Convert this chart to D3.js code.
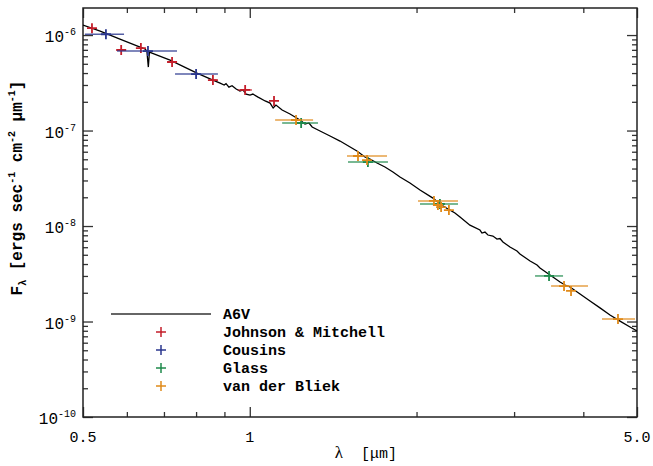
<!DOCTYPE html>
<html>
<head>
<meta charset="utf-8">
<script src="https://cdn.jsdelivr.net/npm/d3@7"></script>
<style>
  body { margin: 0; background: #fff; }
  svg { display: block; }
</style>
</head>
<body>
<div id="chart"></div>
<script>
// model spectrum A6V (wavelength in micron, flux in ergs/s/cm2/micron)
var specLambda = [0.500, 0.537, 0.583, 0.634, 0.647, 0.652, 0.656, 0.659, 0.666, 0.718,
  0.803, 0.858, 0.884, 0.899, 0.906, 0.917, 0.929, 0.945, 0.960, 0.972,
  0.985, 1.001, 1.013, 1.035, 1.066, 1.088, 1.102, 1.115, 1.144, 1.182,
  1.232, 1.258, 1.279, 1.296, 1.339, 1.396, 1.455, 1.561, 1.614, 1.648,
  1.697, 1.754, 1.813, 1.867, 1.946, 2.029, 2.141, 2.204, 2.279, 2.346,
  2.396, 2.497, 2.603, 2.625, 2.658, 2.691, 2.747, 2.794, 2.829, 2.864,
  2.949, 3.036, 3.074, 3.206, 3.300, 3.341, 3.483, 3.631, 3.707, 3.785,
  3.946, 4.113, 4.287, 4.469, 4.659, 4.857, 5.000];
var specFlux = [1.27e-6, 1.10e-6, 9.08e-7, 7.49e-7, 7.14e-7, 6.80e-7, 4.62e-7, 6.64e-7, 6.48e-7, 5.47e-7,
  4.00e-7, 3.38e-7, 3.14e-7, 3.00e-7, 3.10e-7, 2.85e-7, 2.95e-7, 2.72e-7, 2.59e-7, 2.66e-7,
  2.41e-7, 2.35e-7, 2.41e-7, 2.24e-7, 2.04e-7, 1.94e-7, 1.72e-7, 1.85e-7, 1.64e-7, 1.49e-7,
  1.29e-7, 1.17e-7, 1.20e-7, 1.09e-7, 9.88e-8, 8.76e-8, 7.76e-8, 6.10e-8, 5.28e-8, 5.03e-8,
  4.57e-8, 4.15e-8, 3.68e-8, 3.26e-8, 2.82e-8, 2.38e-8, 1.96e-8, 1.70e-8, 1.51e-8, 1.37e-8,
  1.24e-8, 1.02e-8, 9.08e-9, 8.45e-9, 8.65e-9, 8.05e-9, 7.86e-9, 7.31e-9, 7.40e-9, 6.80e-9,
  6.03e-9, 5.47e-9, 5.09e-9, 4.30e-9, 3.91e-9, 3.63e-9, 3.07e-9, 2.59e-9, 2.41e-9, 2.30e-9,
  1.94e-9, 1.64e-9, 1.39e-9, 1.17e-9, 1.01e-9, 8.76e-10, 7.95e-10];

// Johnson & Mitchell
var jmLambda = [0.519, 0.586, 0.636, 0.724, 0.858, 0.981, 1.106];
var jmFlux   = [1.18e-6, 6.97e-7, 7.31e-7, 5.22e-7, 3.38e-7, 2.66e-7, 2.04e-7];
var jmLo     = [0.519, 0.586, 0.636, 0.724, 0.845, 0.952, 1.106];
var jmHi     = [0.519, 0.586, 0.636, 0.724, 0.871, 1.009, 1.106];

// Cousins
var coLambda = [0.550, 0.655, 0.800];
var coFlux   = [1.02e-6, 6.80e-7, 3.90e-7];
var coLo     = [0.504, 0.576, 0.733];
var coHi     = [0.593, 0.739, 0.876];

// Glass
var glLambda = [1.238, 1.634, 2.204, 3.469];
var glFlux   = [1.20e-7, 4.68e-8, 1.70e-8, 3.00e-9];
var glLo     = [1.144, 1.504, 2.029, 3.273];
var glHi     = [1.328, 1.776, 2.376, 3.677];

// van der Bliek
var vbLambda = [1.212, 1.568, 1.628, 2.150, 2.186, 2.215, 2.288, 3.692, 3.801, 4.620];
var vbFlux   = [1.29e-7, 5.41e-8, 4.91e-8, 1.83e-8, 1.66e-8, 1.58e-8, 1.47e-8, 2.35e-9, 2.09e-9, 1.06e-9];
var vbLo     = [1.111, 1.498, 1.628, 2.012, 2.186, 2.215, 2.288, 3.498, 3.801, 4.323];
var vbHi     = [1.301, 1.769, 1.628, 2.376, 2.186, 2.215, 2.288, 4.079, 3.801, 4.959];

var xMajor = [0.5, 1, 5];
var xMajorLabels = ["0.5", "1", "5.0"];
var xMinor = [0.6, 0.7, 0.8, 0.9, 2, 3, 4];
var yDecades = [-10, -9, -8, -7, -6];
var legendNames = ["A6V", "Johnson & Mitchell", "Cousins", "Glass", "van der Bliek"];
var seriesColors = ["#c41e2a", "#2b378f", "#1f8a4c", "#e08a1a"];

var W = 653, H = 466;
var plotL = 83, plotR = 637, plotT = 8, plotB = 417;

var svg = d3.select("#chart").append("svg")
    .attr("width", W)
    .attr("height", H);

var x = d3.scaleLog().domain([0.5, 5.0]).range([plotL, plotR]);
var y = d3.scaleLog().domain([1e-10, 1.92e-6]).range([plotB, plotT]);

// y minor ticks: 2..9 in each decade
var yMinor = [];
yDecades.forEach(function(e) {
  for (var k = 2; k <= 9; k++) {
    var v = k * Math.pow(10, e);
    if (v < y.domain()[1]) yMinor.push(v);
  }
});
var yMajor = yDecades.map(function(e) { return Math.pow(10, e); });

function drawAxis(axisFn, scale, vals, size, tx, ty) {
  var g = svg.append("g")
    .attr("transform", "translate(" + tx + "," + ty + ")")
    .call(axisFn(scale).tickValues(vals).tickSize(size).tickFormat(""));
  g.select(".domain").remove();
  g.selectAll("line").attr("stroke", "#333").attr("stroke-width", 1.3);
}

// ticks pointing inward on all four sides
drawAxis(d3.axisBottom, x, xMajor, -10, 0, plotB);
drawAxis(d3.axisBottom, x, xMinor, -5, 0, plotB);
drawAxis(d3.axisTop, x, xMajor, -10, 0, plotT);
drawAxis(d3.axisTop, x, xMinor, -5, 0, plotT);
drawAxis(d3.axisLeft, y, yMajor, -10, plotL, 0);
drawAxis(d3.axisLeft, y, yMinor, -5, plotL, 0);
drawAxis(d3.axisRight, y, yMajor, -10, plotR, 0);
drawAxis(d3.axisRight, y, yMinor, -5, plotR, 0);

// frame
svg.append("rect")
  .attr("x", plotL).attr("y", plotT)
  .attr("width", plotR - plotL).attr("height", plotB - plotT)
  .attr("fill", "none")
  .attr("stroke", "#222")
  .attr("stroke-width", 1.5);

// x tick labels
svg.selectAll(".xlab")
  .data(xMajor)
  .enter().append("text")
    .attr("x", function(d) { return x(d); })
    .attr("y", plotB + 25)
    .attr("text-anchor", "middle")
    .style("font-family", "Liberation Mono, monospace")
    .style("font-size", "15px")
    .text(function(d, i) { return xMajorLabels[i]; });

// y tick labels 10^n
var ylab = svg.selectAll(".ylab")
  .data(yDecades)
  .enter().append("text")
    .attr("x", 76)
    .attr("y", function(d) { return y(Math.pow(10, d)) + 7; })
    .attr("text-anchor", "end")
    .style("font-family", "Liberation Mono, monospace")
    .style("font-size", "16px");
ylab.append("tspan").text("10");
ylab.append("tspan")
  .attr("dy", -7)
  .style("font-size", "10px")
  .text(function(d) { return d; });

// axis titles
var xt = svg.append("text")
  .attr("x", 366).attr("y", 458)
  .attr("text-anchor", "middle")
  .style("font-family", "Liberation Mono, monospace")
  .style("font-size", "15px");
xt.append("tspan").style("font-family", "Liberation Serif, serif").style("font-size", "17px").text("λ");
xt.append("tspan").attr("xml:space", "preserve").text("  [μm]");

var yt = svg.append("text")
  .attr("transform", "translate(22," + 188 + ") rotate(-90)")
  .attr("text-anchor", "middle")
  .style("font-family", "Liberation Mono, monospace")
  .style("font-weight", "bold")
  .style("font-size", "16px");
yt.append("tspan").text("F");
yt.append("tspan").attr("dy", 4).style("font-size", "10px").text("λ");
yt.append("tspan").attr("dy", -4).text(" [ergs sec");
yt.append("tspan").attr("dy", -7).style("font-size", "10px").text("-1");
yt.append("tspan").attr("dy", 7).text(" cm");
yt.append("tspan").attr("dy", -7).style("font-size", "10px").text("-2");
yt.append("tspan").attr("dy", 7).text(" μm");
yt.append("tspan").attr("dy", -7).style("font-size", "10px").text("-1");
yt.append("tspan").attr("dy", 7).text("]");

// clip plot area
svg.append("clipPath").attr("id", "plotclip")
  .append("rect")
    .attr("x", plotL).attr("y", plotT)
    .attr("width", plotR - plotL).attr("height", plotB - plotT);

// spectrum line
var spec = specLambda.map(function(l, i) { return {l: l, f: specFlux[i]}; });
var line = d3.line()
  .x(function(d) { return x(d.l); })
  .y(function(d) { return y(d.f); });
svg.append("path")
  .datum(spec)
  .attr("clip-path", "url(#plotclip)")
  .attr("d", line)
  .attr("fill", "none")
  .attr("stroke", "#000")
  .attr("stroke-width", 1.3);

// photometry series
var series = [
  {l: jmLambda, f: jmFlux, lo: jmLo, hi: jmHi},
  {l: coLambda, f: coFlux, lo: coLo, hi: coHi},
  {l: glLambda, f: glFlux, lo: glLo, hi: glHi},
  {l: vbLambda, f: vbFlux, lo: vbLo, hi: vbHi}
];

function plus(cx, cy, s) {
  return "M" + (cx - s) + "," + cy + "H" + (cx + s) + "M" + cx + "," + (cy - s) + "V" + (cy + s);
}

series.forEach(function(s, si) {
  var pts = s.l.map(function(l, i) { return {l: l, f: s.f[i], lo: s.lo[i], hi: s.hi[i]}; });
  var g = svg.append("g").attr("clip-path", "url(#plotclip)");
  // filter width bars
  g.selectAll("line.bar")
    .data(pts.filter(function(d) { return d.hi > d.lo; }))
    .enter().append("line")
      .attr("x1", function(d) { return x(d.lo); })
      .attr("x2", function(d) { return x(d.hi); })
      .attr("y1", function(d) { return y(d.f); })
      .attr("y2", function(d) { return y(d.f); })
      .attr("stroke", seriesColors[si])
      .attr("stroke-opacity", 0.8)
      .attr("stroke-width", 1.5);
  // plus markers
  g.selectAll("path.pt")
    .data(pts)
    .enter().append("path")
      .attr("d", function(d) { return plus(x(d.l), y(d.f), 5); })
      .attr("stroke", seriesColors[si])
      .attr("stroke-width", 1.8)
      .attr("fill", "none");
});

// legend
var legX = 111, legTextX = 223, legY0 = 314, legDy = 18;
svg.append("line")
  .attr("x1", legX).attr("x2", legX + 100)
  .attr("y1", legY0).attr("y2", legY0)
  .attr("stroke", "#333")
  .attr("stroke-width", 1.5);
legendNames.forEach(function(name, i) {
  var yy = legY0 + i * legDy;
  if (i > 0) {
    svg.append("path")
      .attr("d", plus(161, yy, 5))
      .attr("stroke", seriesColors[i - 1])
      .attr("stroke-width", 1.5)
      .attr("fill", "none");
  }
  svg.append("text")
    .attr("x", legTextX)
    .attr("y", yy + 5)
    .style("font-family", "Liberation Mono, monospace")
    .style("font-weight", "bold")
    .style("font-size", "15px")
    .text(name);
});
</script>
</body>
</html>
